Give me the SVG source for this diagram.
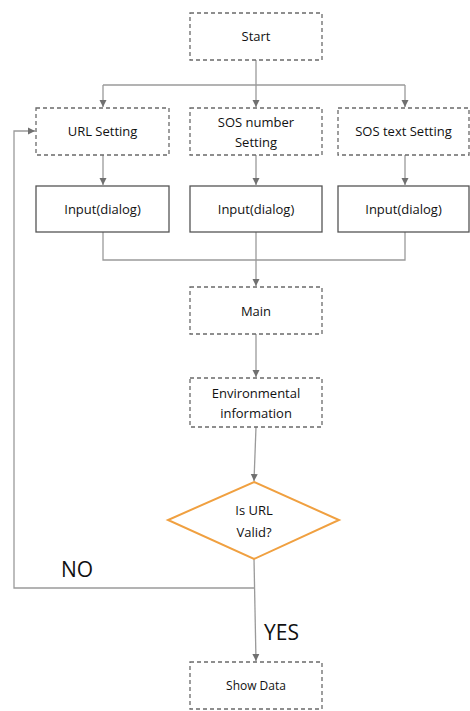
<svg xmlns="http://www.w3.org/2000/svg" width="470" height="711" viewBox="0 0 470 711">
<defs>
<marker id="ah" markerWidth="8" markerHeight="8" refX="7" refY="4" orient="auto" markerUnits="userSpaceOnUse">
<path d="M0,0.5 L7,4 L0,7.5 Z" fill="#707070"/>
</marker>
</defs>
<style>
.dash{fill:#fff;stroke:#6a6a6a;stroke-width:1.3;stroke-dasharray:4 3}
.solid{fill:#fff;stroke:#555;stroke-width:1.3}
.t{font-family:"Open Sans","Liberation Sans",sans-serif;font-size:13px;fill:#111;text-anchor:middle}
.big{font-family:"Open Sans","Liberation Sans",sans-serif;font-size:21px;fill:#111}
.c{fill:none;stroke:#9a9a9a;stroke-width:1.3}
.ca{fill:none;stroke:#9a9a9a;stroke-width:1.3;marker-end:url(#ah)}
</style>
<rect width="470" height="711" fill="#fff"/>
<g id="connectors">
<path class="c" d="M256,60 V85"/>
<path class="c" d="M103,85 H405"/>
<path class="ca" d="M103,85 V107"/>
<path class="ca" d="M256,85 V107"/>
<path class="ca" d="M405,85 V107"/>
<path class="ca" d="M103,155 V185"/>
<path class="ca" d="M256,155 V185"/>
<path class="ca" d="M405,155 V185"/>
<path class="c" d="M103,232 V260 H405 V232"/>
<path class="ca" d="M256,232 V286"/>
<path class="ca" d="M256,334 V377"/>
<path class="ca" d="M256,427 L254,481"/>
<path class="ca" d="M254,559 L256,661"/>
<path class="ca" d="M254,588 H14 V131 H35"/>
<text class="big" x="61" y="577">NO</text>
<text class="big" x="264" y="640">YES</text>
</g>
<g id="start"><rect class="dash" x="190" y="13" width="132" height="47"/><text class="t" x="256" y="41">Start</text></g>
<g id="url"><rect class="dash" x="36" y="108" width="133" height="47"/><text class="t" x="102.5" y="136">URL Setting</text></g>
<g id="sosnum"><rect class="dash" x="190" y="108" width="132" height="47"/><text class="t" x="256" y="127">SOS number</text><text class="t" x="256" y="147">Setting</text></g>
<g id="sostext"><rect class="dash" x="338" y="108" width="131" height="47"/><text class="t" x="403.5" y="136">SOS text Setting</text></g>
<g id="in1"><rect class="solid" x="36" y="186" width="133" height="46"/><text class="t" x="102.5" y="214">Input(dialog)</text></g>
<g id="in2"><rect class="solid" x="190" y="186" width="132" height="46"/><text class="t" x="256" y="214">Input(dialog)</text></g>
<g id="in3"><rect class="solid" x="338" y="186" width="131" height="46"/><text class="t" x="403.5" y="214">Input(dialog)</text></g>
<g id="main"><rect class="dash" x="190" y="287" width="132" height="47"/><text class="t" x="256" y="316">Main</text></g>
<g id="env"><rect class="dash" x="190" y="378" width="132" height="49"/><text class="t" x="256" y="398">Environmental</text><text class="t" x="256" y="418">information</text></g>
<g id="valid"><polygon points="254,482 339,520 254,559 168,520" fill="#fff" stroke="#f0a040" stroke-width="2"/><text class="t" x="254" y="515">Is URL</text><text class="t" x="254" y="537">Valid?</text></g>
<g id="show"><rect class="dash" x="190" y="662" width="132" height="47"/><text class="t" x="256" y="690" style="font-size:12px">Show Data</text></g>
</svg>
